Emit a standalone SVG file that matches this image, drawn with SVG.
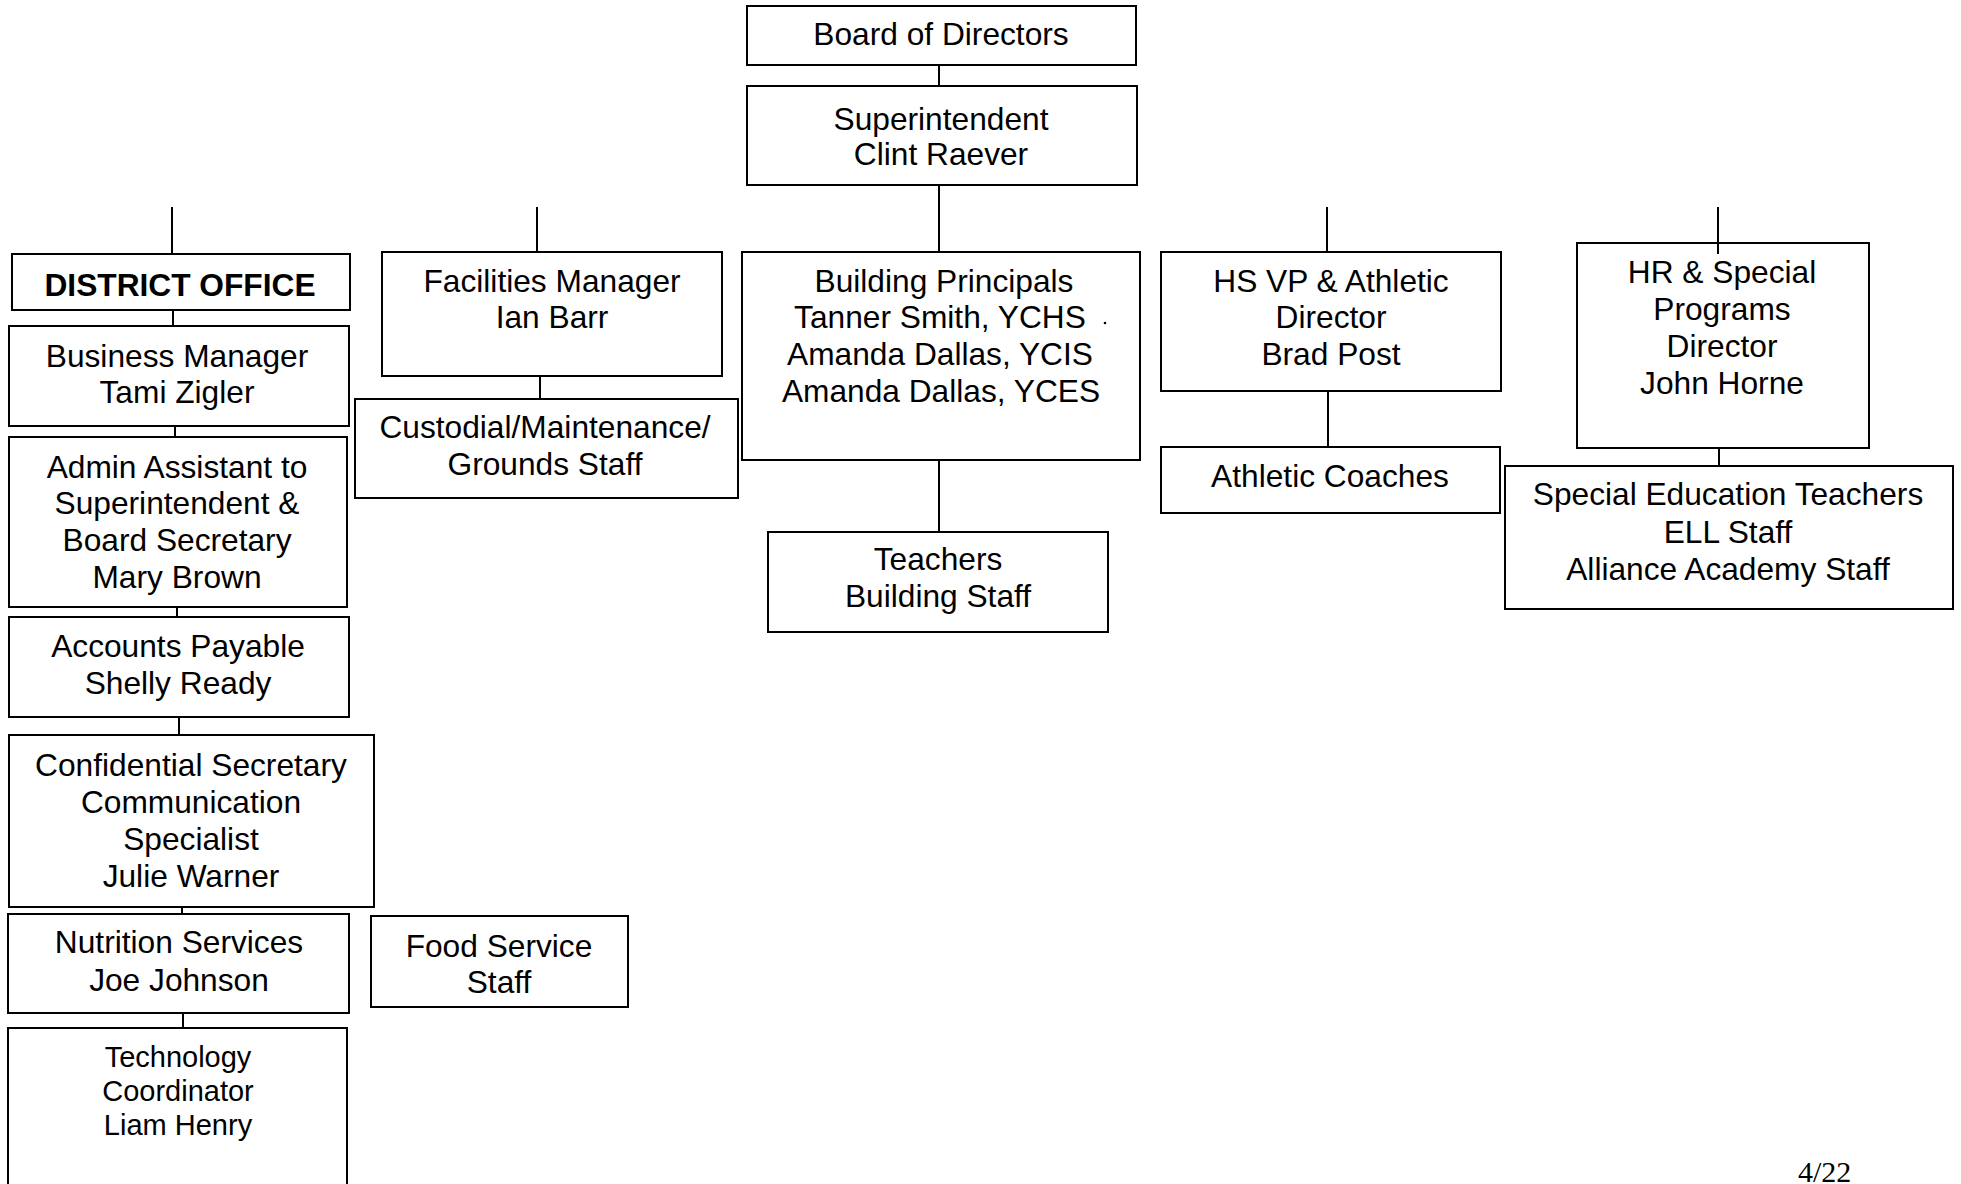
<svg xmlns="http://www.w3.org/2000/svg" width="1961" height="1184" viewBox="0 0 1961 1184">
<style>
  .box { fill: #ffffff; stroke: #000000; stroke-width: 2; }
  .t { font-family: "Liberation Sans", Arial, sans-serif; font-size: 31.7px; fill: #000000; text-anchor: middle; }
  .b { font-weight: bold; }
  .sm { font-size: 29px; }
  .conn line { stroke: #000000; stroke-width: 2; }
  .pg { font-family: "Liberation Serif", "Times New Roman", serif; font-size: 30px; fill: #000000; }
</style>
<rect x="0" y="0" width="1961" height="1184" fill="#ffffff"/>

<g id="connectors" class="conn">
  <line x1="939" y1="65" x2="939" y2="86"/>
  <line x1="939" y1="185" x2="939" y2="252"/>
  <line x1="939" y1="460" x2="939" y2="532"/>
  <line x1="172" y1="207" x2="172" y2="254"/>
  <line x1="173" y1="310" x2="173" y2="326"/>
  <line x1="175" y1="426" x2="175" y2="437"/>
  <line x1="177" y1="607" x2="177" y2="617"/>
  <line x1="179" y1="717" x2="179" y2="735"/>
  <line x1="182" y1="907" x2="182" y2="914"/>
  <line x1="183" y1="1013" x2="183" y2="1028"/>
  <line x1="537" y1="207" x2="537" y2="253"/>
  <line x1="540" y1="376" x2="540" y2="399"/>
  <line x1="1327" y1="207" x2="1327" y2="252"/>
  <line x1="1328" y1="391" x2="1328" y2="447"/>
  <line x1="1719" y1="405" x2="1719" y2="466"/>
</g>

<g id="board">
  <rect class="box" x="747" y="6" width="389" height="59"/>
  <text class="t" x="941" y="45">Board of Directors</text>
</g>
<g id="superintendent">
  <rect class="box" x="747" y="86" width="390" height="99"/>
  <text class="t" x="941" y="130">Superintendent</text>
  <text class="t" x="941" y="165">Clint Raever</text>
</g>
<g id="district-office">
  <rect class="box" x="12" y="254" width="338" height="56"/>
  <text class="t b" x="180" y="296">DISTRICT OFFICE</text>
</g>
<g id="business-manager">
  <rect class="box" x="9" y="326" width="340" height="100"/>
  <text class="t" x="177" y="367">Business Manager</text>
  <text class="t" x="177" y="403">Tami Zigler</text>
</g>
<g id="admin-assistant">
  <rect class="box" x="9" y="437" width="338" height="170"/>
  <text class="t" x="177" y="478">Admin Assistant to</text>
  <text class="t" x="177" y="514">Superintendent &amp;</text>
  <text class="t" x="177" y="551">Board Secretary</text>
  <text class="t" x="177" y="588">Mary Brown</text>
</g>
<g id="accounts-payable">
  <rect class="box" x="9" y="617" width="340" height="100"/>
  <text class="t" x="178" y="657">Accounts Payable</text>
  <text class="t" x="178" y="694">Shelly Ready</text>
</g>
<g id="confidential-secretary">
  <rect class="box" x="9" y="735" width="365" height="172"/>
  <text class="t" x="191" y="776">Confidential Secretary</text>
  <text class="t" x="191" y="813">Communication</text>
  <text class="t" x="191" y="850">Specialist</text>
  <text class="t" x="191" y="887">Julie Warner</text>
</g>
<g id="nutrition-services">
  <rect class="box" x="8" y="914" width="341" height="99"/>
  <text class="t" x="179" y="953">Nutrition Services</text>
  <text class="t" x="179" y="991">Joe Johnson</text>
</g>
<g id="technology-coordinator">
  <rect class="box" x="8" y="1028" width="339" height="170"/>
  <text class="t sm" x="178" y="1067">Technology</text>
  <text class="t sm" x="178" y="1101">Coordinator</text>
  <text class="t sm" x="178" y="1135">Liam Henry</text>
</g>
<g id="food-service">
  <rect class="box" x="371" y="916" width="257" height="91"/>
  <text class="t" x="499" y="957">Food Service</text>
  <text class="t" x="499" y="993">Staff</text>
</g>
<g id="facilities-manager">
  <rect class="box" x="382" y="252" width="340" height="124"/>
  <text class="t" x="552" y="292">Facilities Manager</text>
  <text class="t" x="552" y="328">Ian Barr</text>
</g>
<g id="custodial">
  <rect class="box" x="355" y="399" width="383" height="99"/>
  <text class="t" x="545" y="438">Custodial/Maintenance/</text>
  <text class="t" x="545" y="475">Grounds Staff</text>
</g>
<g id="building-principals">
  <rect class="box" x="742" y="252" width="398" height="208"/>
  <text class="t" x="944" y="292">Building Principals</text>
  <text class="t" x="940" y="328">Tanner Smith, YCHS</text>
  <text class="t" x="940" y="365">Amanda Dallas, YCIS</text>
  <text class="t" x="941" y="402">Amanda Dallas, YCES</text>
  <circle cx="1105" cy="323" r="1.3" fill="#000000"/>
</g>
<g id="teachers">
  <rect class="box" x="768" y="532" width="340" height="100"/>
  <text class="t" x="938" y="570">Teachers</text>
  <text class="t" x="938" y="607">Building Staff</text>
</g>
<g id="hs-vp">
  <rect class="box" x="1161" y="252" width="340" height="139"/>
  <text class="t" x="1331" y="292">HS VP &amp; Athletic</text>
  <text class="t" x="1331" y="328">Director</text>
  <text class="t" x="1331" y="365">Brad Post</text>
</g>
<g id="athletic-coaches">
  <rect class="box" x="1161" y="447" width="339" height="66"/>
  <text class="t" x="1330" y="487">Athletic Coaches</text>
</g>
<g id="hr-director">
  <rect class="box" x="1577" y="243" width="292" height="205"/>
  <text class="t" x="1722" y="283">HR &amp; Special</text>
  <text class="t" x="1722" y="320">Programs</text>
  <text class="t" x="1722" y="357">Director</text>
  <text class="t" x="1722" y="394">John Horne</text>
</g>
<g id="special-education">
  <rect class="box" x="1505" y="466" width="448" height="143"/>
  <text class="t" x="1728" y="505">Special Education Teachers</text>
  <text class="t" x="1728" y="543">ELL Staff</text>
  <text class="t" x="1728" y="580">Alliance Academy Staff</text>
</g>
<g id="hr-stub" class="conn">
  <line x1="1718" y1="207" x2="1718" y2="254"/>
</g>

<text class="pg" x="1798" y="1182">4/22</text>
</svg>
